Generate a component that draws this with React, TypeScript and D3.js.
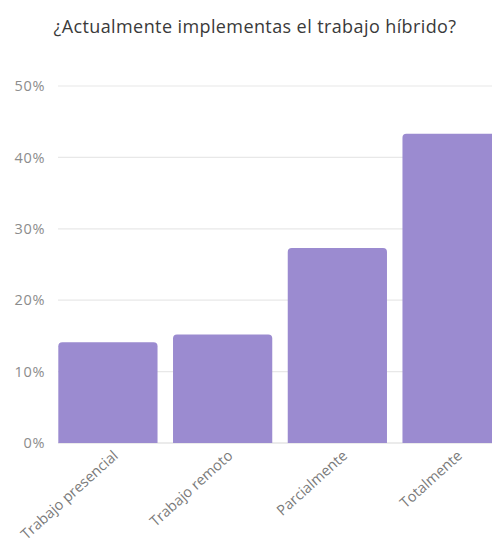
import React from "react";
import * as d3 from "d3";

const categories = ["Trabajo presencial", "Trabajo remoto", "Parcialmente", "Totalmente"];
const values = [14.1, 15.2, 27.3, 43.3];
const yTicks = [0, 10, 20, 30, 40, 50];
const title = "¿Actualmente implementas el trabajo híbrido?";

export default function App() {
  const W = 492, H = 543;
  const x = d3.scaleBand<string>().domain(categories).range([50.5, 509.5]).paddingInner(0.135).paddingOuter(0.068);
  const y = d3.scaleLinear().domain([0, 50]).range([443, 86]);
  const r = 4;
  const barPath = (x0: number, w: number, y0: number, y1: number) => {
    return `M${x0},${y1}V${y0 + r}Q${x0},${y0} ${x0 + r},${y0}H${x0 + w - r}Q${x0 + w},${y0} ${x0 + w},${y0 + r}V${y1}Z`;
  };
  return (
    <div style={{ position: "absolute", left: 0, top: 0 }}>
      <svg width={W} height={H} style={{ display: "block", fontFamily: "'Open Sans', Lato, sans-serif" }}>
        <rect width={W} height={H} fill="#fff" />
        <text x={255} y={33} textAnchor="middle" fontSize={18} letterSpacing={0.4} fill="#3a3a3a">{title}</text>
        {yTicks.map((t) => (
          <g key={t}>
            <line x1={58} x2={W} y1={y(t)} y2={y(t)} stroke={t === 0 ? "#d8d8d8" : "#e8e8e8"} strokeWidth={1.2} />
            <text x={45} y={y(t)} dy="0.36em" textAnchor="end" fontSize={14.5} letterSpacing={0.6} fill="#8c8c8c">{t}%</text>
          </g>
        ))}
        {categories.map((c, i) => (
          <path key={c} d={barPath(x(c)!, x.bandwidth(), y(values[i]), y(0))} fill="#9b8bd0" />
        ))}
        {categories.map((c) => {
          const cx = x(c)! + x.bandwidth() / 2 + 11;
          return (
            <text key={c} transform={`translate(${cx},${457}) rotate(-42)`} textAnchor="end" fontSize={14.5} fill="#7a7a7a">{c}</text>
          );
        })}
      </svg>
    </div>
  );
}
